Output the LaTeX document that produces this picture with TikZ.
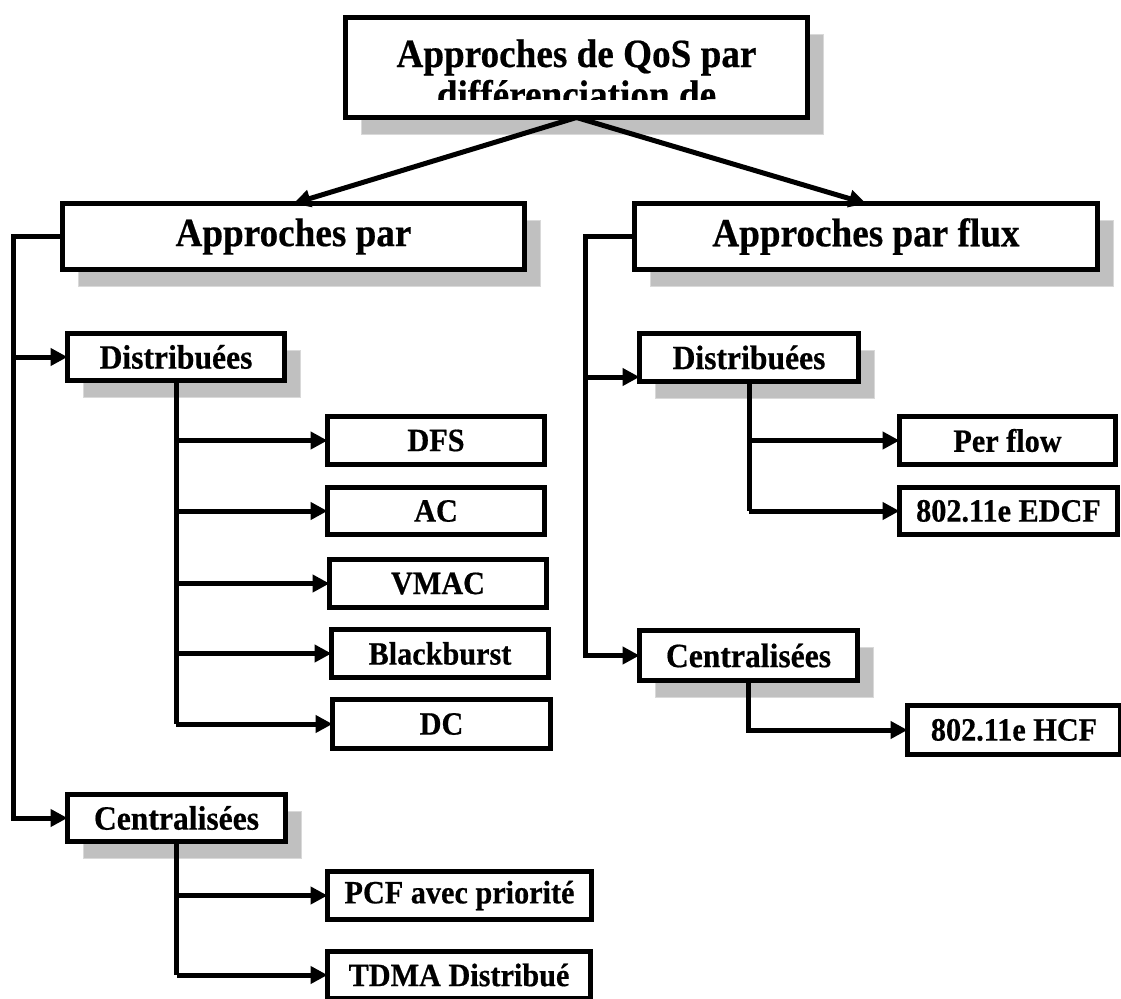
\documentclass[tikz,border=0pt]{standalone}
\usepackage{fontspec}
\setmainfont{Liberation Serif}
\newfontfamily\labelfont{Liberation Serif}[FakeStretch=0.93, FakeBold=0.5]
\usetikzlibrary{arrows.meta,shadows,calc}
\definecolor{shadowgray}{HTML}{C0C0C0}
\definecolor{shadowedge}{HTML}{D9D9D9}
\tikzset{
  box/.style={draw=black, line width=5pt, fill=white, inner sep=0pt, outer sep=0pt, align=center},
  shad/.style={drop shadow={shadow xshift=16pt, shadow yshift=-17pt, fill=shadowgray, draw=shadowedge, line width=1pt, opacity=1}},
  bigtxt/.style={font=\labelfont\fontsize{40}{44}\selectfont\bfseries},
  midtxt/.style={font=\labelfont\fontsize{34}{38}\selectfont\bfseries},
  smalltxt/.style={font=\labelfont\fontsize{32.5}{36}\selectfont\bfseries},
  conn/.style={line width=5pt, draw=black},
  arr/.style={conn, -{Triangle[length=17pt,width=17pt]}},
}
\begin{document}
\begin{tikzpicture}[x=1pt,y=-1pt]
\clip (0,0) rectangle (1121,998);
\fill[white] (0,0) rectangle (1121,998);

% top box
\node[box, shad, minimum width=462pt, minimum height=100pt] (top) at (576.5,67.5) {};
\begin{scope}
  \clip (top.north west) rectangle ($(top.south east)+(0,-18.5)$);
  \node[bigtxt, anchor=base, inner sep=0pt] (t1) at (576.5,67) {Approches de QoS par};
  \node[bigtxt, anchor=base, inner sep=0pt] (t2) at (576.5,108) {différenciation de};
\end{scope}

% level 2
\node[box, shad, bigtxt, minimum width=462pt, minimum height=66pt] (ap) at (293.5,236.5) {Approches par};
\node[box, shad, bigtxt, minimum width=463pt, minimum height=66pt] (af) at (866,236.5) {Approches par flux};

% level 3
\node[box, shad, midtxt, minimum width=217pt, minimum height=47pt] (ld) at (176,357) {Distribuées};
\node[box, shad, midtxt, minimum width=218pt, minimum height=47pt] (lc) at (176.5,818) {Centralisées};
\node[box, shad, midtxt, minimum width=219pt, minimum height=48pt] (rd) at (749,357.5) {Distribuées};
\node[box, shad, midtxt, minimum width=218pt, minimum height=50pt] (rc) at (748.5,655.5) {Centralisées};

% leaves left
\node[box, smalltxt, minimum width=217pt, minimum height=48pt] (dfs) at (436,440.5) {DFS};
\node[box, smalltxt, minimum width=217pt, minimum height=47pt] (ac) at (436,511) {AC};
\node[box, smalltxt, minimum width=217pt, minimum height=48pt] (vmac) at (438,583.5) {VMAC};
\node[box, smalltxt, minimum width=217pt, minimum height=48pt] (bb) at (440,653.5) {Blackburst};
\node[box, smalltxt, minimum width=218pt, minimum height=49pt] (dc) at (441.5,724) {DC};
\node[box, smalltxt, minimum width=264pt, minimum height=48pt] (pcf) at (459.5,895.5) {PCF avec priorité};
\node[box, smalltxt, minimum width=263pt, minimum height=47pt] (tdma) at (459,975) {TDMA Distribué};

% leaves right
\node[box, smalltxt, minimum width=216pt, minimum height=48pt] (pf) at (1007.5,440.5) {Per flow};
\node[box, smalltxt, minimum width=218pt, minimum height=47pt] (edcf) at (1008.5,511) {802.11e EDCF};
\node[box, smalltxt, minimum width=213pt, minimum height=49pt] (hcf) at (1014,730) {802.11e HCF};

% top arrows
\draw[arr] (top.south) -- (ap.north);
\draw[arr] (top.south) -- (af.north);

% left bus
\coordinate (lbus) at (13,236.5);
\draw[arr] (ap.west) -- (lbus) |- (lc.west);
\draw[arr] (lbus |- ld.west) -- (ld.west);

% right bus
\coordinate (rbus) at (585,236.5);
\draw[arr] (af.west) -- (rbus) |- (rc.west);
\draw[arr] ([yshift=-19.5pt]rbus |- rd.west) -- ([yshift=-19.5pt]rd.west);

% left distribuees
\draw[conn] (ld.south) -- (ld.south |- dc.west);
\foreach \n in {dfs,ac,vmac,bb,dc}{\draw[arr] (ld.south |- \n.west) -- (\n.west);}
% left centralisees
\draw[conn] (lc.south) -- (lc.south |- tdma.west);
\foreach \n in {pcf,tdma}{\draw[arr] (lc.south |- \n.west) -- (\n.west);}
% right distribuees
\draw[conn] (rd.south) -- (rd.south |- edcf.west);
\foreach \n in {pf,edcf}{\draw[arr] (rd.south |- \n.west) -- (\n.west);}
% right centralisees
\draw[arr] (rc.south) |- (hcf.west);
\end{tikzpicture}
\end{document}
